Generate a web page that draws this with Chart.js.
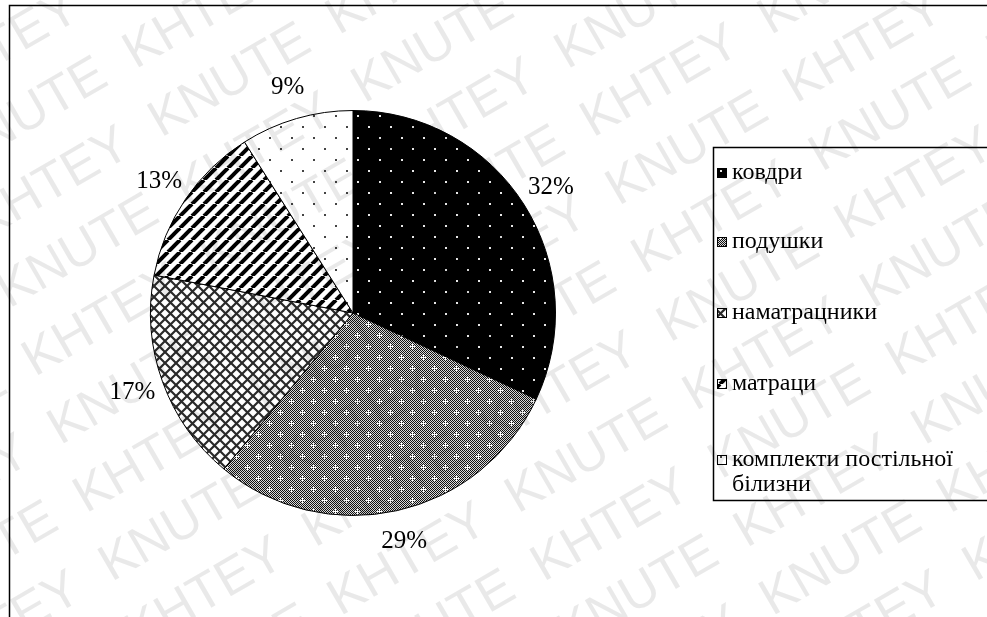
<!DOCTYPE html>
<html lang="uk">
<head>
<meta charset="UTF-8" />
<title>Структура</title>
<script src="https://cdn.jsdelivr.net/npm/chart.js"></script>
<style>
  html, body { margin: 0; padding: 0; background: #fff; overflow: hidden; }
  canvas { display: block; }
</style>
</head>
<body>
<canvas id="pie" width="987" height="617"></canvas>
<script>
  // data
  var categories = ["ковдри", "подушки", "наматрацники", "матраци", "комплекти постільної білизни"];
  var shares = [32, 29, 17, 13, 9];
  var watermarkWords = ["KHTEY", "KNUTE"];

  var canvas = document.getElementById("pie");
  var ctx = canvas.getContext("2d");

  function makePattern(size, draw) {
    var c = document.createElement("canvas");
    c.width = size;
    c.height = size;
    draw(c.getContext("2d"), size);
    return ctx.createPattern(c, "repeat");
  }

  // staggered dots
  function dots(bg, fg) {
    return makePattern(22, function (g, s) {
      g.fillStyle = bg;
      g.fillRect(0, 0, s, s);
      g.fillStyle = fg;
      g.fillRect(5, 5, 2, 2);
      g.fillRect(16, 16, 2, 2);
    });
  }

  var patterns = [
    dots("#000", "#e8e8e8"),
    makePattern(22, function (g, s) {
      for (var y = 0; y < s; y++) {
        for (var x = 0; x < s; x++) {
          g.fillStyle = (x + y) % 2 ? "#d8d8d8" : "#111";
          g.fillRect(x, y, 1, 1);
        }
      }
      g.fillStyle = "#fff";
      [[5, 5], [16, 16]].forEach(function (p) {
        g.fillRect(p[0] - 2, p[1], 5, 1);
        g.fillRect(p[0], p[1] - 2, 1, 5);
      });
    }),
    makePattern(11, function (g, s) {
      g.fillStyle = "#fff";
      g.fillRect(0, 0, s, s);
      g.strokeStyle = "#2a2a2a";
      g.lineWidth = 2.2;
      for (var k = -1; k <= 1; k++) {
        g.beginPath();
        g.moveTo(k * s, 0); g.lineTo(k * s + s, s);
        g.moveTo(k * s + s, 0); g.lineTo(k * s, s);
        g.stroke();
      }
    }),
    makePattern(12, function (g, s) {
      g.fillStyle = "#fff";
      g.fillRect(0, 0, s, s);
      g.strokeStyle = "#000";
      g.lineWidth = 4;
      for (var k = -1; k <= 1; k++) {
        g.beginPath();
        g.moveTo(k * s, s); g.lineTo(k * s + s, 0);
        g.stroke();
      }
    }),
    dots("#fff", "#444")
  ];

  var serif = "'Liberation Serif', 'Times New Roman', serif";

  var framePlugin = {
    id: "frame",
    beforeDraw: function (chart) {
      var c = chart.ctx;
      c.save();
      c.fillStyle = "#fff";
      c.fillRect(0, 0, chart.width, chart.height);
      c.restore();
    },
    afterDraw: function (chart) {
      var c = chart.ctx;
      var meta = chart.getDatasetMeta(0);

      // percent labels outside slices
      c.save();
      c.font = "25px " + serif;
      c.fillStyle = "#000";
      c.textAlign = "center";
      c.textBaseline = "middle";
      meta.data.forEach(function (arc, i) {
        var mid = (arc.startAngle + arc.endAngle) / 2;
        var d = arc.outerRadius + 32;
        c.fillText(shares[i] + "%", arc.x + Math.cos(mid) * d, arc.y + Math.sin(mid) * d);
      });
      c.restore();

      // legend box
      var bx = 713, by = 147, bh = 353;
      c.save();
      c.strokeStyle = "#000";
      c.lineWidth = 1.5;
      c.strokeRect(bx + 0.5, by + 0.5, 400, bh);
      c.font = "24px " + serif;
      c.textBaseline = "middle";
      c.textAlign = "left";
      var rowY = [173, 242, 313, 384, 460];
      categories.forEach(function (name, i) {
        var y = rowY[i];
        c.fillStyle = patterns[i];
        c.fillRect(bx + 4, y - 5, 10, 10);
        c.strokeStyle = "#000";
        c.lineWidth = 1;
        c.strokeRect(bx + 4.5, y - 4.5, 9, 9);
        c.fillStyle = "#000";
        // simple word wrap
        var words = name.split(" "), line = "", lines = [];
        words.forEach(function (w) {
          var test = line ? line + " " + w : w;
          if (c.measureText(test).width > 262 && line) { lines.push(line); line = w; }
          else line = test;
        });
        lines.push(line);
        lines.forEach(function (l, j) {
          c.fillText(l, bx + 19, y + j * 25);
        });
      });
      c.restore();

      // outer frame
      c.save();
      c.strokeStyle = "#000";
      c.lineWidth = 1.5;
      c.strokeRect(9.5, 5.5, 1100, 800);
      c.restore();

      // watermark, rows tilted 30 degrees
      c.save();
      c.fillStyle = "rgba(0,0,0,0.085)";
      c.font = "52px 'Liberation Sans', Arial, sans-serif";
      c.textBaseline = "alphabetic";
      c.rotate(-30 * Math.PI / 180);
      for (var k = -8; k <= 12; k++) {
        var yy = 416 + 72 * k;
        var x0 = 444.5 - 12 * k + (Math.abs(k) % 2 ? 205 : 0);
        for (var m = -4; m <= 4; m++) {
          c.fillText(watermarkWords[0], x0 + 410 * m, yy);
          c.fillText(watermarkWords[1], x0 + 205 + 410 * m, yy);
        }
      }
      c.restore();
    }
  };

  new Chart(ctx, {
    type: "pie",
    data: {
      labels: categories,
      datasets: [{
        data: shares,
        backgroundColor: patterns,
        borderColor: "#000",
        borderWidth: 1
      }]
    },
    options: {
      responsive: false,
      animation: false,
      devicePixelRatio: 1,
      layout: { padding: { left: 150, right: 431, top: 110, bottom: 101 } },
      plugins: {
        legend: { display: false },
        tooltip: { enabled: false }
      }
    },
    plugins: [framePlugin]
  });
</script>
</body>
</html>
